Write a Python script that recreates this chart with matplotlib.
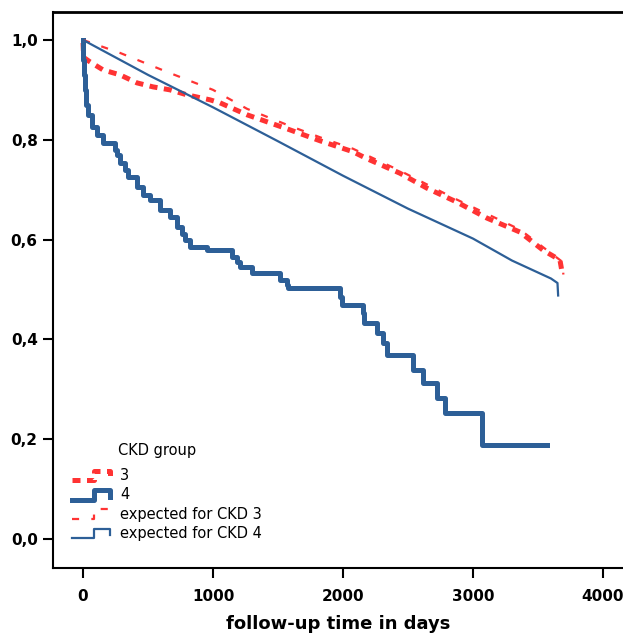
import matplotlib
matplotlib.use("Agg")
import matplotlib.pyplot as plt
from matplotlib.lines import Line2D
from matplotlib.legend_handler import HandlerBase
from matplotlib.ticker import FuncFormatter

# observed Kaplan-Meier, CKD 4 (step function)
km4_days = [0, 3, 8, 15, 25, 40, 70, 110, 154, 246, 260, 285, 320, 346, 415, 460,
            515, 592, 669, 723, 760, 785, 823, 954, 1146, 1185, 1208, 1300, 1515,
            1569, 1577, 1977, 1992, 2154, 2160, 2262, 2308, 2338, 2538, 2615, 2723,
            2785, 3069, 3569]
km4_surv = [1.0, 0.96, 0.93, 0.90, 0.87, 0.85, 0.826, 0.81, 0.794, 0.78, 0.77, 0.754,
            0.74, 0.725, 0.705, 0.69, 0.679, 0.659, 0.645, 0.625, 0.612, 0.599, 0.585,
            0.579, 0.565, 0.555, 0.545, 0.533, 0.519, 0.509, 0.503, 0.485, 0.469,
            0.453, 0.433, 0.413, 0.393, 0.369, 0.339, 0.313, 0.283, 0.253, 0.188, 0.188]

# observed Kaplan-Meier, CKD 3
km3_days = [0, 5, 54, 154, 285, 415, 538, 669, 800, 977, 1054, 1262, 1569, 1823,
            2077, 2185, 2438, 2646, 2877, 3108, 3362, 3538, 3669, 3685]
km3_surv = [0.994, 0.965, 0.956, 0.94, 0.93, 0.914, 0.906, 0.90, 0.89, 0.88, 0.874,
            0.85, 0.822, 0.798, 0.776, 0.762, 0.733, 0.703, 0.675, 0.643, 0.615,
            0.579, 0.559, 0.535]

# expected survival, CKD 3
exp3_days = [0, 285, 646, 1000, 1262, 1569, 1823, 2077, 2438, 2877, 3362, 3538, 3690, 3695]
exp3_surv = [1.0, 0.974, 0.936, 0.90, 0.862, 0.83, 0.805, 0.782, 0.738, 0.68, 0.62,
             0.585, 0.555, 0.53]

# expected survival, CKD 4
exp4_days = [0, 500, 1000, 1500, 2000, 2500, 3000, 3300, 3600, 3650, 3655]
exp4_surv = [1.0, 0.93, 0.865, 0.797, 0.728, 0.662, 0.602, 0.558, 0.522, 0.513, 0.488]

red = "#ff3333"
blue = "#2d5f97"


class StepHandler(HandlerBase):
    def create_artists(self, legend, orig_handle, xdescent, ydescent,
                       width, height, fontsize, trans):
        x0 = -xdescent
        lo = -ydescent + 0.05 * height
        hi = -ydescent + 0.85 * height
        xs = [x0, x0 + 0.58 * width, x0 + 0.58 * width, x0 + width, x0 + width]
        ys = [lo, lo, hi, hi, lo + 0.25 * height]
        line = Line2D(xs, ys)
        self.update_prop(line, orig_handle, legend)
        line.set_transform(trans)
        return [line]


fig = plt.figure(figsize=(6.23, 6.34), dpi=100)
ax = fig.add_axes([53 / 623, 66 / 634, 570 / 623, 556 / 634])

l3, = ax.plot(km3_days, km3_surv, color=red, lw=3.6, dashes=(1.6, 1.3), label="3")
l4, = ax.plot(km4_days, km4_surv, color=blue, lw=3.6, drawstyle="steps-post", label="4")
e3, = ax.plot(exp3_days, exp3_surv, color=red, lw=1.6, dashes=(3.2, 5.5),
              label="expected for CKD 3")
e4, = ax.plot(exp4_days, exp4_surv, color=blue, lw=1.6, label="expected for CKD 4")

ax.set_xlim(-231, 4154)
ax.set_ylim(-0.058, 1.056)
ax.set_xticks([0, 1000, 2000, 3000, 4000])
ax.set_yticks([0, 0.2, 0.4, 0.6, 0.8, 1.0])
ax.yaxis.set_major_formatter(FuncFormatter(lambda v, p: f"{v:.1f}".replace(".", ",")))
ax.tick_params(direction="out", length=7, width=1.5, labelsize=11, pad=4)
ax.tick_params(axis="x", pad=8)
for lab in ax.get_xticklabels() + ax.get_yticklabels():
    lab.set_fontweight("bold")
ax.spines["right"].set_visible(False)
for s in ["left", "bottom"]:
    ax.spines[s].set_linewidth(1.5)
ax.spines["top"].set_linewidth(2)

ax.set_xlabel("follow-up time in days", fontsize=13, fontweight="bold", labelpad=8)

ax.text(0.114, 0.212, "CKD group", transform=ax.transAxes, fontsize=10.5,
        va="center", ha="left")
ax.legend(handles=[l3, l4, e3, e4], loc="upper left", bbox_to_anchor=(0.033, 0.180),
          frameon=False, fontsize=10.5, borderpad=0, borderaxespad=0,
          handlelength=2.6, handletextpad=0.7, labelspacing=0.3, handleheight=0.9,
          handler_map={Line2D: StepHandler()})

fig.savefig("out.png", dpi=100)
